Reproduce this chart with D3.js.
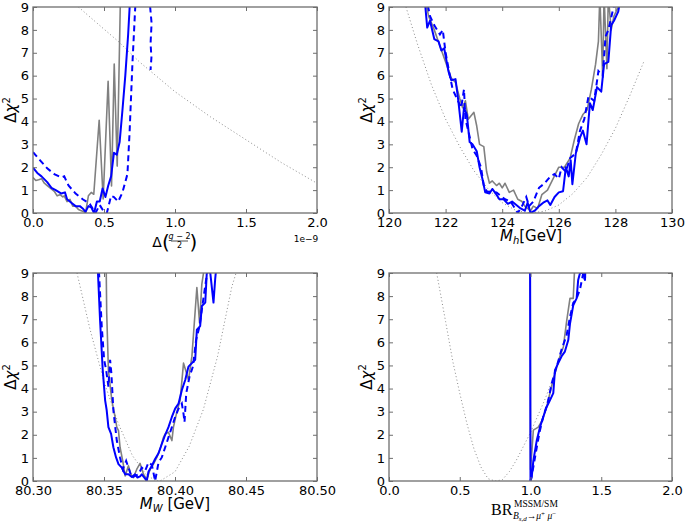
<!DOCTYPE html>
<html><head><meta charset="utf-8">
<script src="https://cdn.jsdelivr.net/npm/d3@7"></script>
<style>body{margin:0;background:#fff}svg{display:block}</style>
</head><body>
<svg id="c" width="685" height="525"></svg>
<script>
// ---------------- DATA ----------------
const yTicks = [0,1,2,3,4,5,6,7,8,9];
const yTickLabels = ["0","1","2","3","4","5","6","7","8","9"];

const p1XTicks = [0,0.5,1.0,1.5,2.0];
const p1XTickLabels = ["0.0","0.5","1.0","1.5","2.0"];
const p2XTicks = [120,122,124,126,128,130];
const p2XTickLabels = ["120","122","124","126","128","130"];
const p3XTicks = [80.30,80.35,80.40,80.45,80.50];
const p3XTickLabels = ["80.30","80.35","80.40","80.45","80.50"];
const p4XTicks = [0,0.5,1.0,1.5,2.0];
const p4XTickLabels = ["0.0","0.5","1.0","1.5","2.0"];

// Panel 1: Delta (g-2)/2  [1e-9]
const p1Dotted = [[0.32,9],[0.45,8.3],[0.6,7.5],[0.75,6.6],[1.0,5.3],[1.25,4.2],[1.5,3.2],[1.75,2.2],[2.0,1.3]];
const p1Gray = [[0,1.55],[0.02,1.42],[0.04,1.45],[0.06,1.5],[0.08,1.3],[0.1,1.2],[0.12,1.1],[0.15,0.95],[0.17,0.75],[0.19,0.8],[0.21,0.7],[0.22,0.75],[0.24,0.5],[0.26,0.6],[0.28,0.3],[0.3,0.3],[0.32,0.15],[0.34,0.1],[0.36,0.05],[0.37,0.0],[0.39,0.75],[0.41,0.9],[0.428,0.82],[0.466,4.05],[0.494,0.61],[0.529,5.75],[0.553,1.18],[0.572,6.51],[0.593,2.05],[0.616,9.5]];
const p1Blue = [[0,1.98],[0.03,1.75],[0.06,1.6],[0.1,1.35],[0.13,1.1],[0.16,1.0],[0.2,0.85],[0.225,0.9],[0.24,0.6],[0.27,0.45],[0.3,0.3],[0.33,0.3],[0.35,0.2],[0.37,0.05],[0.39,0.3],[0.41,0.25],[0.43,0.0],[0.45,0.5],[0.47,0.5],[0.49,1.07],[0.51,0.7],[0.53,1.2],[0.55,1.6],[0.57,2.63],[0.59,2.55],[0.61,3.1],[0.63,4.5],[0.65,6.0],[0.67,7.8],[0.685,9.5]];
const p1Dashed = [[0,2.66],[0.05,2.3],[0.1,1.95],[0.15,1.7],[0.2,1.55],[0.22,1.6],[0.25,1.2],[0.3,0.85],[0.35,0.6],[0.4,0.4],[0.44,0.0],[0.47,0.35],[0.5,0.05],[0.52,0.0],[0.55,0.75],[0.57,0.7],[0.6,0.5],[0.63,0.9],[0.665,1.7],[0.68,3.5],[0.70,6.5],[0.72,9.0],[0.76,12],[0.82,12],[0.825,9],[0.835,8.3],[0.828,7.4],[0.834,6.8],[0.828,6.25]];

// Panel 2: M_h [GeV]
const p2Dotted = [[120.6,9],[121,7.4],[121.5,5.6],[122,4.1],[122.5,2.9],[123,1.85],[123.5,1.05],[124,0.45],[124.5,0.1],[125,0],[125.5,0.08],[126,0.35],[126.5,0.85],[127,1.55],[127.5,2.55],[128,3.7],[128.5,5.1],[129,6.6]];
const p2Gray = [[121.25,9.5],[121.4,8.6],[121.6,8.0],[121.8,7.3],[122.0,6.6],[122.2,5.9],[122.35,5.7],[122.5,5.0],[122.6,4.6],[122.7,4.9],[122.8,4.1],[123.0,4.4],[123.1,3.8],[123.2,3.0],[123.35,2.9],[123.45,1.8],[123.55,1.3],[123.65,1.4],[123.8,1.2],[123.9,1.3],[124.0,1.1],[124.1,1.3],[124.25,0.9],[124.4,1.0],[124.55,0.6],[124.7,0.5],[124.8,0.3],[124.9,0.2],[125.0,0.1],[125.1,0.3],[125.25,0.2],[125.4,0.8],[125.6,1.0],[125.8,1.5],[126.0,2.0],[126.2,2.0],[126.4,2.4],[126.55,3.2],[126.7,3.9],[126.85,4.3],[127.0,4.5],[127.15,5.4],[127.3,6.5],[127.4,7.5],[127.45,9.5],[127.55,6.0],[127.6,9.5],[127.7,6.3],[127.75,9.5],[127.85,8.0],[127.95,8.6],[128.1,9.0],[128.2,9.5]];
const p2Blue = [[121.25,9.5],[121.35,8.1],[121.45,8.4],[121.6,7.6],[121.75,7.5],[121.85,7.1],[121.95,7.2],[122.1,6.2],[122.2,5.8],[122.35,5.85],[122.45,4.9],[122.57,3.55],[122.65,4.6],[122.75,4.3],[122.85,3.1],[122.95,3.0],[123.1,2.7],[123.2,2.0],[123.3,1.5],[123.4,0.9],[123.55,0.85],[123.65,1.05],[123.8,0.8],[123.9,0.6],[124.05,0.6],[124.2,0.4],[124.35,0.5],[124.5,0.35],[124.65,0.2],[124.8,0.1],[124.9,0.45],[125.0,0.0],[125.15,0.1],[125.3,0.3],[125.45,0.45],[125.6,0.55],[125.7,0.35],[125.85,0.7],[126.0,0.9],[126.15,0.95],[126.25,2.0],[126.35,1.6],[126.42,2.3],[126.48,1.26],[126.6,2.6],[126.75,3.3],[126.85,3.6],[126.98,3.0],[127.1,4.8],[127.2,4.5],[127.35,5.5],[127.5,5.3],[127.6,6.5],[127.75,6.6],[127.85,8.2],[127.95,8.4],[128.1,8.8],[128.2,9.5]];
const p2Dashed = [[121.3,9.5],[121.45,8.6],[121.6,8.2],[121.8,7.8],[121.9,8.0],[122.0,7.0],[122.15,6.0],[122.25,5.4],[122.4,5.0],[122.55,4.6],[122.65,5.4],[122.7,4.1],[122.8,3.6],[122.95,2.8],[123.1,2.5],[123.25,2.0],[123.35,1.2],[123.45,0.95],[123.6,0.9],[123.8,0.9],[123.95,0.75],[124.1,0.6],[124.3,0.5],[124.45,0.2],[124.55,0.0],[124.7,0.3],[124.85,0.7],[124.95,0.3],[125.1,0.5],[125.3,1.1],[125.5,1.3],[125.7,1.6],[125.85,1.7],[126.0,1.5],[126.1,2.0],[126.25,1.8],[126.4,2.4],[126.6,2.6],[126.75,3.6],[126.9,4.1],[127.05,5.1],[127.25,4.9],[127.4,6.2],[127.55,6.0],[127.65,7.7],[127.75,8.0],[127.9,8.8],[128.05,9.5]];

// Panel 3: M_W [GeV]
const p3Dotted = [[80.331,9],[80.34,6.6],[80.35,4.3],[80.36,2.5],[80.37,1.1],[80.38,0.25],[80.387,0],[80.39,0.02],[80.40,0.4],[80.41,1.5],[80.42,3.1],[80.43,5.4],[80.44,8.4],[80.443,9]];
const p3Gray = [[80.3515,9.5],[80.3519,7.28],[80.3531,4.81],[80.3555,3.49],[80.3578,2.77],[80.3590,2.33],[80.3602,2.18],[80.3613,1.46],[80.3632,0.87],[80.3649,0.22],[80.3672,0.66],[80.3689,0.29],[80.3707,0.15],[80.3731,0.51],[80.3754,0.76],[80.3778,0.29],[80.3801,0.07],[80.3825,0.51],[80.3848,0.73],[80.3872,1.02],[80.3895,1.38],[80.3919,1.89],[80.3931,2.04],[80.3954,2.11],[80.3978,1.75],[80.3989,2.33],[80.4013,2.99],[80.4036,3.49],[80.4060,5.10],[80.4074,4.81],[80.4095,4.37],[80.4119,5.39],[80.4154,8.37],[80.4173,6.84],[80.4189,8.52],[80.4213,9.5]];
const p3Blue = [[80.3454,9.5],[80.3472,6.99],[80.3491,4.81],[80.3508,3.49],[80.3519,3.06],[80.3531,2.33],[80.3550,2.04],[80.3566,1.46],[80.3585,1.02],[80.3602,0.73],[80.3625,0.58],[80.3649,0.29],[80.3672,0.29],[80.3696,0.17],[80.3719,0.29],[80.3736,0.15],[80.3754,0.2],[80.3766,0.29],[80.3790,0.1],[80.3801,0.0],[80.3813,0.4],[80.3837,0.66],[80.3860,0.95],[80.3884,1.2],[80.3907,1.6],[80.3931,2.0],[80.3954,2.33],[80.3978,2.77],[80.4001,3.13],[80.4025,3.35],[80.4048,3.93],[80.4072,4.37],[80.4095,4.95],[80.4119,5.10],[80.4142,5.24],[80.4154,6.55],[80.4177,6.70],[80.4189,7.57],[80.4213,7.72],[80.4224,9.03],[80.4248,9.03],[80.4271,7.72],[80.4283,8.74],[80.4295,9.5]];
const p3Dashed = [[80.3461,9.5],[80.3484,6.70],[80.3501,5.24],[80.3515,4.81],[80.3531,4.08],[80.3543,5.24],[80.3552,4.66],[80.3566,3.06],[80.3590,1.75],[80.3613,1.02],[80.3632,0.51],[80.3656,0.87],[80.3672,0.58],[80.3696,0.15],[80.3719,0.22],[80.3743,0.29],[80.3766,0.58],[80.3790,0.44],[80.3813,0.80],[80.3837,0.70],[80.3860,0.0],[80.3884,0.80],[80.3907,1.02],[80.3931,1.46],[80.3954,1.89],[80.3978,2.33],[80.4001,2.77],[80.4025,3.13],[80.4048,3.35],[80.4060,2.91],[80.4067,2.55],[80.4079,3.79],[80.4102,4.51],[80.4126,4.95],[80.4149,6.12],[80.4173,6.70],[80.4196,7.72],[80.4220,8.74],[80.4236,9.5]];

// Panel 4: BR(Bs,d -> mu mu) MSSM/SM
const p4Dotted = [[0.337,9],[0.4,6.9],[0.45,5.2],[0.5,3.8],[0.55,2.5],[0.6,1.4],[0.65,0.6],[0.7,0.1],[0.75,0.0],[0.8,0.05],[0.85,0.4],[0.9,0.9],[0.95,1.5],[1.0,2.1],[1.05,2.8],[1.1,3.5],[1.15,4.3],[1.2,5.2]];
const p4Gray = [[0.998,9.5],[1.0,0.5],[1.01,1.3],[1.02,2.2],[1.055,2.33],[1.08,2.6],[1.114,3.2],[1.161,4.4],[1.208,5.4],[1.232,5.8],[1.255,6.9],[1.279,7.9],[1.302,7.9],[1.314,9.5]];
const p4Blue = [[0.997,9.5],[1.0,0.0],[1.008,0.15],[1.02,0.87],[1.044,1.75],[1.067,2.33],[1.09,2.77],[1.114,3.2],[1.138,3.5],[1.161,3.8],[1.173,4.8],[1.196,5.1],[1.22,5.4],[1.243,5.6],[1.267,6.1],[1.279,6.8],[1.302,7.6],[1.326,7.9],[1.337,8.7],[1.35,9.0],[1.373,9.0],[1.385,8.7],[1.39,9.5]];
const p4Dashed = [[1.0,0.0],[1.02,0.6],[1.044,1.45],[1.067,2.2],[1.09,2.77],[1.126,3.5],[1.149,4.2],[1.185,4.95],[1.22,5.7],[1.255,6.3],[1.279,7.1],[1.302,7.7],[1.326,7.9],[1.35,8.3],[1.373,9.0],[1.385,8.7],[1.39,9.5]];

// ---------------- DRAW ----------------
const svg = d3.select("#c");
const AX = "#6e6e6e";
const FONT = "'DejaVu Sans', sans-serif";

const panels = [
  {box:[33,317,7,213], xdom:[0,2], xt:p1XTicks, xl:p1XTickLabels, dotted:p1Dotted, gray:p1Gray, blue:p1Blue, dashed:p1Dashed},
  {box:[389,672,7,213], xdom:[120,130], xt:p2XTicks, xl:p2XTickLabels, dotted:p2Dotted, gray:p2Gray, blue:p2Blue, dashed:p2Dashed},
  {box:[33,317,273,481], xdom:[80.30,80.50], xt:p3XTicks, xl:p3XTickLabels, dotted:p3Dotted, gray:p3Gray, blue:p3Blue, dashed:p3Dashed},
  {box:[389,672,273,481], xdom:[0,2], xt:p4XTicks, xl:p4XTickLabels, dotted:p4Dotted, gray:p4Gray, blue:p4Blue, dashed:p4Dashed}
];

panels.forEach((p,i)=>{
  const [x0,x1,y0,y1] = p.box;
  const x = d3.scaleLinear().domain(p.xdom).range([x0,x1]);
  const y = d3.scaleLinear().domain([0,9]).range([y1,y0]);
  const g = svg.append("g");
  const cid = "clip"+i;
  svg.append("clipPath").attr("id",cid).append("rect")
     .attr("x",x0).attr("y",y0).attr("width",x1-x0).attr("height",y1-y0);
  const line = d3.line().x(d=>x(d[0])).y(d=>y(d[1]));
  const lg = g.append("g").attr("clip-path",`url(#${cid})`);
  lg.append("path").attr("d",line(p.dotted)).attr("fill","none")
    .attr("stroke","#8a8a8a").attr("stroke-width",1).attr("stroke-dasharray","1,2.5");
  lg.append("path").attr("d",line(p.gray)).attr("fill","none")
    .attr("stroke","#808080").attr("stroke-width",1.6).attr("stroke-linejoin","round");
  lg.append("path").attr("d",line(p.blue)).attr("fill","none")
    .attr("stroke","#0000ff").attr("stroke-width",2).attr("stroke-linejoin","round");
  lg.append("path").attr("d",line(p.dashed)).attr("fill","none")
    .attr("stroke","#0000ff").attr("stroke-width",2).attr("stroke-dasharray","6,4");

  // axes
  const fmtX = d => p.xl[p.xt.indexOf(d)];
  const fmtY = d => yTickLabels[yTicks.indexOf(d)];
  const bx = g.append("g").attr("transform",`translate(0,${y1})`)
    .call(d3.axisBottom(x).tickValues(p.xt).tickFormat(fmtX).tickSizeInner(-4).tickSizeOuter(0).tickPadding(5));
  const tx = g.append("g").attr("transform",`translate(0,${y0})`)
    .call(d3.axisTop(x).tickValues(p.xt).tickFormat("").tickSizeInner(-4).tickSizeOuter(0));
  const ly = g.append("g").attr("transform",`translate(${x0},0)`)
    .call(d3.axisLeft(y).tickValues(yTicks).tickFormat(fmtY).tickSizeInner(-4).tickSizeOuter(0).tickPadding(4));
  const ry = g.append("g").attr("transform",`translate(${x1},0)`)
    .call(d3.axisRight(y).tickValues(yTicks).tickFormat("").tickSizeInner(-4).tickSizeOuter(0));
  [bx,tx,ly,ry].forEach(a=>{
    a.select(".domain").remove();
    a.selectAll("line").attr("stroke",AX).attr("stroke-width",1);
    a.selectAll("text").attr("fill","#000").style("font-family",FONT).style("font-size","13px");
  });
  g.append("rect").attr("x",x0).attr("y",y0).attr("width",x1-x0).attr("height",y1-y0)
    .attr("fill","none").attr("stroke",AX).attr("stroke-width",1.3);

  // y label
  const yl = g.append("text").attr("transform",`translate(${x0-17},${(y0+y1)/2}) rotate(-90)`)
    .attr("text-anchor","middle").style("font-family",FONT).style("font-size","15px");
  yl.append("tspan").text("Δ");
  yl.append("tspan").style("font-style","italic").text("χ");
  yl.append("tspan").attr("dy",-6).style("font-size","10px").text("2");
});

// x labels
// panel 1
{
  const g = svg.append("g").style("font-family",FONT);
  g.append("text").attr("x",157).attr("y",247).attr("text-anchor","middle").style("font-size","14px").text("Δ");
  g.append("text").attr("x",166).attr("y",249).attr("text-anchor","middle").style("font-size","20px").text("(");
  const n = g.append("text").attr("x",179.5).attr("y",238.5).attr("text-anchor","middle").style("font-size","8px");
  n.append("tspan").style("font-style","italic").text("g");
  n.append("tspan").text(" − 2");
  g.append("line").attr("x1",171).attr("x2",188).attr("y1",241).attr("y2",241).attr("stroke","#000").attr("stroke-width",0.7);
  g.append("text").attr("x",179.5).attr("y",248).attr("text-anchor","middle").style("font-size","8px").text("2");
  g.append("text").attr("x",193.5).attr("y",249).attr("text-anchor","middle").style("font-size","20px").text(")");
  g.append("text").attr("x",306).attr("y",242).attr("text-anchor","middle").style("font-size","9px").text("1e−9");
}
// panel 2
{
  const t = svg.append("text").attr("x",531).attr("y",241).attr("text-anchor","middle")
    .style("font-family",FONT).style("font-size","15px");
  t.append("tspan").style("font-style","italic").text("M");
  t.append("tspan").attr("dy",3).style("font-size","10px").style("font-style","italic").text("h");
  t.append("tspan").attr("dy",-3).text("[GeV]");
}
// panel 3
{
  const t = svg.append("text").attr("x",175).attr("y",509).attr("text-anchor","middle")
    .style("font-family",FONT).style("font-size","15px");
  t.append("tspan").style("font-style","italic").text("M");
  t.append("tspan").attr("dy",3).style("font-size","10px").style("font-style","italic").text("W");
  t.append("tspan").attr("dy",-3).text(" [GeV]");
}
// panel 4
{
  const SER = "'Liberation Serif','DejaVu Serif',serif";
  const g = svg.append("g").style("font-family",SER);
  g.append("text").attr("x",491).attr("y",515).style("font-size","16px").text("BR");
  g.append("text").attr("x",514).attr("y",507).style("font-size","9.5px").text("MSSM/SM");
  const s = g.append("text").attr("x",513).attr("y",519).style("font-size","9.5px");
  s.append("tspan").style("font-style","italic").text("B");
  s.append("tspan").attr("dy",2).style("font-size","7px").style("font-style","italic").text("s,d");
  s.append("tspan").attr("dy",-2).text("→");
  s.append("tspan").style("font-style","italic").text("μ");
  s.append("tspan").attr("dy",-3).style("font-size","7px").text("+");
  s.append("tspan").attr("dy",3).style("font-style","italic").text(" μ");
  s.append("tspan").attr("dy",-3).style("font-size","7px").text("−");
}
</script>
</body></html>
